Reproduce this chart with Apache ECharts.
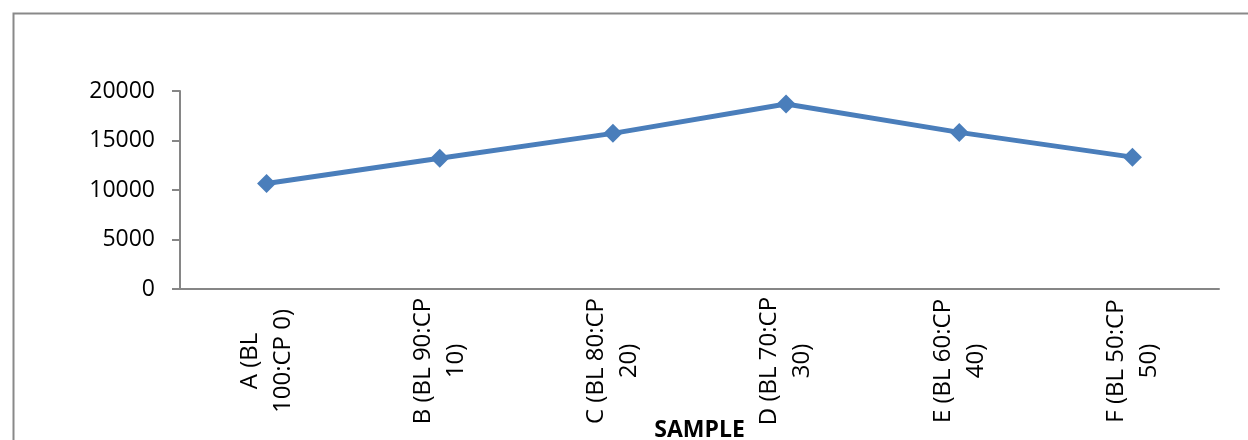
<!DOCTYPE html>
<html>
<head>
<meta charset="utf-8">
<script src="https://cdn.jsdelivr.net/npm/echarts@6/dist/echarts.min.js"></script>
<style>
  html, body { margin: 0; padding: 0; background: #ffffff; }
  #chart { width: 1248px; height: 440px; }
</style>
</head>
<body>
<div id="chart"></div>
<script>
// Sample blends and their measured values
const categories = [
  'A (BL\n100:CP 0)',
  'B (BL 90:CP\n10)',
  'C (BL 80:CP\n20)',
  'D (BL 70:CP\n30)',
  'E (BL 60:CP\n40)',
  'F (BL 50:CP\n50)'
];
const values = [10650, 13200, 15720, 18690, 15820, 13320];
const yTicks = { min: 0, max: 20000, interval: 5000 };
const xTitle = 'SAMPLE';

const FONT = '"Open Sans", "Noto Sans", sans-serif';
const AXIS_GRAY = '#868686';

const chart = echarts.init(document.getElementById('chart'), null, { renderer: 'canvas' });

chart.setOption({
  animation: false,
  backgroundColor: '#ffffff',
  graphic: [{
    type: 'rect',
    left: 11,
    top: 11,
    shape: { width: 1300, height: 500 },
    style: { fill: 'none', stroke: '#898989', lineWidth: 2 },
    silent: true
  }],
  grid: { left: 180, right: 29, top: 91, bottom: 151, outerBoundsMode: 'none', containLabel: false },
  xAxis: {
    type: 'category',
    data: categories,
    boundaryGap: true,
    name: xTitle,
    nameLocation: 'middle',
    nameGap: 130,
    nameMoveOverlap: false,
    nameTextStyle: { fontFamily: FONT, fontSize: 23, fontWeight: 'bold', color: '#000000' },
    axisLine: { lineStyle: { color: AXIS_GRAY, width: 2 } },
    axisTick: { show: false },
    axisLabel: {
      interval: 0,
      rotate: 90,
      align: 'center',
      verticalAlign: 'middle',
      margin: 72,
      fontFamily: FONT,
      fontSize: 24,
      lineHeight: 33,
      color: '#000000'
    },
    splitLine: { show: false }
  },
  yAxis: {
    type: 'value',
    min: yTicks.min,
    max: yTicks.max,
    interval: yTicks.interval,
    axisLine: { show: true, lineStyle: { color: AXIS_GRAY, width: 2 } },
    axisTick: { show: true, length: 8, lineStyle: { color: AXIS_GRAY, width: 2 } },
    axisLabel: {
      margin: 25,
      fontFamily: FONT,
      fontSize: 23,
      color: '#000000',
      formatter: (v) => String(v)
    },
    splitLine: { show: false }
  },
  series: [{
    type: 'line',
    data: values,
    symbol: 'diamond',
    symbolSize: 19,
    lineStyle: { color: '#4a7ebb', width: 5 },
    itemStyle: { color: '#4a7ebb' },
    z: 3
  }]
});
</script>
</body>
</html>
